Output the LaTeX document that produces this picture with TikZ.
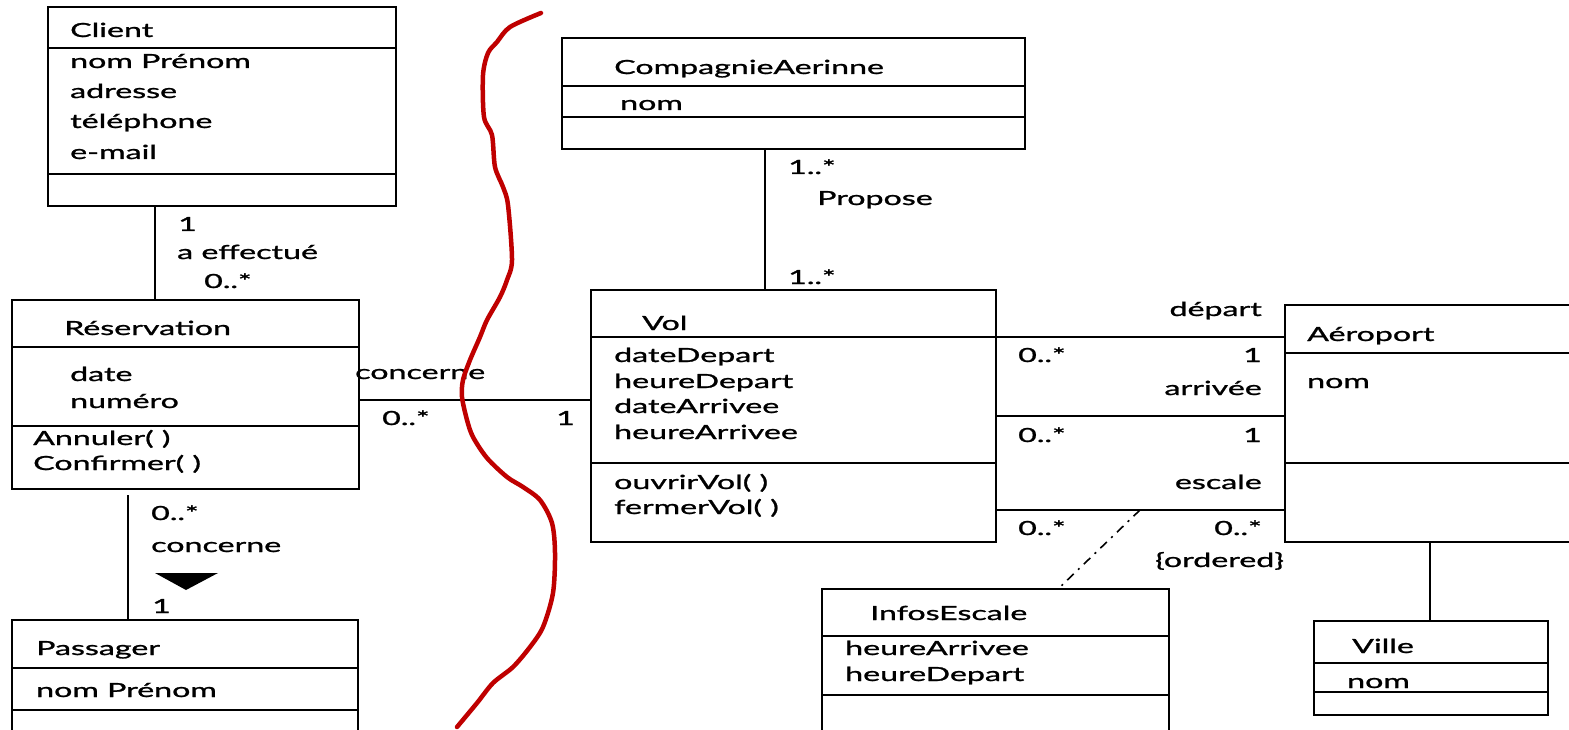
\documentclass[tikz,border=0pt]{standalone}
\usepackage{fontspec}
\newfontfamily\umlfont[FakeStretch=1.65, FakeBold=1.2]{Lato}
\begin{document}
\begin{tikzpicture}[x=1pt,y=-1pt,
  cls/.style={draw, line width=2.6pt, inner sep=0pt, outer sep=0pt, anchor=north west},
  sepline/.style={line width=2pt},
  assoc/.style={line width=2.2pt},
  txt/.style={anchor=base west, inner sep=0pt, font=\umlfont\fontsize{19.5}{24}\selectfont},
  rtxt/.style={txt, anchor=base east},
  scribble/.style={draw=red!75!black, line width=4.5pt, line cap=round, line join=round}]
\clip (0,0) rectangle (1569,730);
\fill[white] (0,0) rectangle (1569,730);

% ---------- Client ----------
\node[cls, minimum width=348pt, minimum height=199pt] (client) at (48,7) {};
\draw[sepline] (client.west |- 0,48) -- (client.east |- 0,48);
\draw[sepline] (client.west |- 0,174) -- (client.east |- 0,174);
\node[txt] (client-t) at (70,37) {Client};
\node[txt] (client-a1) at (70,68) {nom Prénom};
\node[txt] (client-a2) at (70,98) {adresse};
\node[txt] (client-a3) at (70,128) {téléphone};
\node[txt] (client-a4) at (70,159) {e-mail};

% ---------- Réservation ----------
\node[cls, minimum width=347pt, minimum height=189pt] (resa) at (12,300) {};
\draw[sepline] (resa.west |- 0,347) -- (resa.east |- 0,347);
\draw[sepline] (resa.west |- 0,426) -- (resa.east |- 0,426);
\node[txt] (resa-t) at (64,335) {Réservation};
\node[txt] (resa-a1) at (70,381) {date};
\node[txt] (resa-a2) at (70,408) {numéro};
\node[txt] (resa-o1) at (33,445) {Annuler( )};
\node[txt] (resa-o2) at (33,470) {Confirmer( )};

% ---------- Passager ----------
\node[cls, minimum width=346pt, minimum height=140pt] (pass) at (12,620) {};
\draw[sepline] (pass.west |- 0,668) -- (pass.east |- 0,668);
\draw[sepline] (pass.west |- 0,710) -- (pass.east |- 0,710);
\node[txt] (pass-t) at (36,655) {Passager};
\node[txt] (pass-a1) at (36,697) {nom Prénom};

% ---------- CompagnieAerinne ----------
\node[cls, minimum width=463pt, minimum height=111pt] (comp) at (562,38) {};
\draw[sepline] (comp.west |- 0,86) -- (comp.east |- 0,86);
\draw[sepline] (comp.west |- 0,117) -- (comp.east |- 0,117);
\node[txt] (comp-t) at (614,74) {CompagnieAerinne};
\node[txt] (comp-a1) at (620,110) {nom};

% ---------- Vol ----------
\node[cls, minimum width=405pt, minimum height=252pt] (vol) at (591,290) {};
\draw[sepline] (vol.west |- 0,337) -- (vol.east |- 0,337);
\draw[sepline] (vol.west |- 0,463) -- (vol.east |- 0,463);
\node[txt] (vol-t) at (642,330) {Vol};
\node[txt] (vol-a1) at (614,362) {dateDepart};
\node[txt] (vol-a2) at (614,388) {heureDepart};
\node[txt] (vol-a3) at (614,413) {dateArrivee};
\node[txt] (vol-a4) at (614,439) {heureArrivee};
\node[txt] (vol-o1) at (614,489) {ouvrirVol( )};
\node[txt] (vol-o2) at (614,514) {fermerVol( )};

% ---------- Aéroport ----------
\node[cls, minimum width=300pt, minimum height=237pt] (aero) at (1285,305) {};
\draw[sepline] (aero.west |- 0,353) -- (aero.east |- 0,353);
\draw[sepline] (aero.west |- 0,463) -- (aero.east |- 0,463);
\node[txt] (aero-t) at (1307,341) {Aéroport};
\node[txt] (aero-a1) at (1307,388) {nom};

% ---------- InfosEscale ----------
\node[cls, minimum width=347pt, minimum height=160pt] (infos) at (822,589) {};
\draw[sepline] (infos.west |- 0,636) -- (infos.east |- 0,636);
\draw[sepline] (infos.west |- 0,695) -- (infos.east |- 0,695);
\node[txt] (infos-t) at (870,620) {InfosEscale};
\node[txt] (infos-a1) at (845,655) {heureArrivee};
\node[txt] (infos-a2) at (845,681) {heureDepart};

% ---------- Ville ----------
\node[cls, minimum width=234pt, minimum height=94pt] (ville) at (1314,621) {};
\draw[sepline] (ville.west |- 0,663) -- (ville.east |- 0,663);
\draw[sepline] (ville.west |- 0,692) -- (ville.east |- 0,692);
\node[txt] (ville-t) at (1352,653) {Ville};
\node[txt] (ville-a1) at (1347,688) {nom};

% ---------- Associations ----------
% Client -- Réservation
\draw[assoc] (155,0 |- client.south) -- (155,0 |- resa.north);
\node[txt] (m-cl1) at (178,231) {1};
\node[txt] (n-eff) at (177,259) {a effectué};
\node[txt] (m-cl2) at (204,288) {0..*};

% Réservation -- Vol
\draw[assoc] (resa.east |- 0,400) -- (vol.west |- 0,400);
\node[txt] (n-conc1) at (355,379) {concerne};
\node[txt] (m-rv1) at (382,425) {0..*};
\node[txt] (m-rv2) at (556,425) {1};

% Réservation -- Passager
\draw[assoc, shorten <=6pt] (128,0 |- resa.south) -- (128,0 |- pass.north);
\node[txt] (m-rp1) at (151,520) {0..*};
\node[txt] (n-conc2) at (151,552) {concerne};
\fill (155,573) -- (218,573) -- (186,590) -- cycle;
\node[txt] (m-rp2) at (152,613) {1};

% CompagnieAerinne -- Vol
\draw[assoc] (765,0 |- comp.south) -- (765,0 |- vol.north);
\node[txt] (m-cv1) at (788,174) {1..*};
\node[txt] (n-prop) at (817,205) {Propose};
\node[txt] (m-cv2) at (788,284) {1..*};

% Vol -- Aéroport (départ, arrivée, escale)
\draw[assoc] (vol.east |- 0,337) -- (aero.west |- 0,337);
\draw[assoc] (vol.east |- 0,416) -- (aero.west |- 0,416);
\draw[assoc] (vol.east |- 0,510) -- (aero.west |- 0,510);
\node[rtxt] (n-dep) at (1262,316) {départ};
\node[txt] (m-d1) at (1018,362) {0..*};
\node[rtxt] (m-d2) at (1262,362) {1};
\node[rtxt] (n-arr) at (1262,395) {arrivée};
\node[txt] (m-a1) at (1018,442) {0..*};
\node[rtxt] (m-a2) at (1262,442) {1};
\node[rtxt] (n-esc) at (1262,489) {escale};
\node[txt] (m-e1) at (1018,535) {0..*};
\node[rtxt] (m-e2) at (1262,535) {0..*};
\node[txt] (n-ord) at (1155,567) {\{ordered\}};

% association class link
\coordinate (escpt) at (1140,510);
\draw[line width=1.6pt, dash pattern=on 9pt off 6pt on 2pt off 6pt] (escpt) -- (1058,0 |- infos.north);

% Aéroport -- Ville
\draw[assoc] (1430,0 |- aero.south) -- (1430,0 |- ville.north);

% ---------- hand-drawn separator ----------
\draw[scribble] plot[smooth, tension=0.5] coordinates {
  (541,13) (510,27) (497,42) (488,53) (483,75) (484,117) (492,135) (495,167)
  (503,187) (508,205) (512,260) (507,280) (500,297) (487,320) (480,337)
  (470,360) (463,380) (462,397) (467,420) (473,437) (487,458) (507,477)
  (523,487) (540,500) (552,523) (555,553) (553,593) (543,627) (530,647)
  (513,667) (493,683) (477,703) (457,727)};
\end{tikzpicture}
\end{document}
